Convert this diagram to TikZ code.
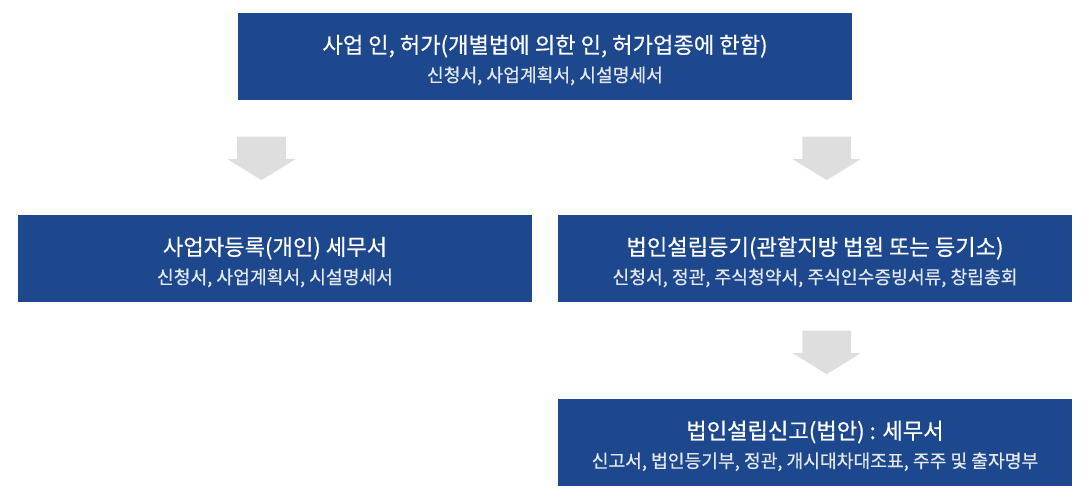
\documentclass[tikz,border=0pt]{standalone}
\usepackage{fontspec}
\setmainfont{Noto Sans CJK KR}[BoldFont={Noto Sans CJK KR},BoldFeatures={FakeBold=0.6}]

\definecolor{boxblue}{RGB}{30,72,141}
\definecolor{arrowgray}{RGB}{222,222,222}
\definecolor{subwhite}{RGB}{226,231,240}

\tikzset{
  stagebox/.style={fill=boxblue, minimum height=87, inner sep=0pt},
  stagetitle/.style={anchor=base, inner sep=0pt, text=white, font=\fontsize{22.2}{26}\selectfont\bfseries},
  stagesub/.style={anchor=base, inner sep=0pt, text=subwhite, font=\fontsize{18.2}{22}\selectfont\bfseries},
  stagearrow/.style={fill=arrowgray},
}

\begin{document}
\begin{tikzpicture}[x=1pt,y=-1pt]
        \useasboundingbox (0,0) rectangle (1092,500);

        % the stages
        \node[stagebox, minimum width=614] (permit) at (545,56.5) {};
        \node[stagebox, minimum width=514] (sole) at (275,258.5) {};
        \node[stagebox, minimum width=514] (corp) at (815,258.5) {};
        \node[stagebox, minimum width=514] (report) at (815,442.3) {};

        % titles and papers in each stage
        \node[stagetitle] (permit-title) at ([yshift=3.3pt]permit.center) {사업 인, 허가(개별법에 의한 인, 허가업종에 한함)};
        \node[stagesub] (permit-sub) at ([yshift=-25.3pt]permit.center) {신청서, 사업계획서, 시설명세서};
        \node[stagetitle] (sole-title) at ([yshift=3.3pt]sole.center) {사업자등록(개인) 세무서};
        \node[stagesub] (sole-sub) at ([yshift=-25.3pt]sole.center) {신청서, 사업계획서, 시설명세서};
        \node[stagetitle] (corp-title) at ([yshift=3.3pt]corp.center) {법인설립등기(관할지방 법원 또는 등기소)};
        \node[stagesub] (corp-sub) at ([yshift=-25.3pt]corp.center) {신청서, 정관, 주식청약서, 주식인수증빙서류, 창립총회};
        \node[stagetitle] (report-title) at ([yshift=3.3pt]report.center) {법인설립신고(법안) : 세무서};
        \node[stagesub] (report-sub) at ([yshift=-25.3pt]report.center) {신고서, 법인등기부, 정관, 개시대차대조표, 주주 및 출자명부};

        % the gray arrows between stages
        \foreach \ax/\ay in {261.5/136.7, 826.7/136.7, 826.7/330.7}
            \fill[stagearrow] (\ax-24.3,\ay) -- (\ax+24.3,\ay) -- (\ax+24.3,\ay+22.5)
                -- (\ax+34,\ay+22.5) -- (\ax,\ay+43.5) -- (\ax-34,\ay+22.5)
                -- (\ax-24.3,\ay+22.5) -- cycle;

\end{tikzpicture}
\end{document}
